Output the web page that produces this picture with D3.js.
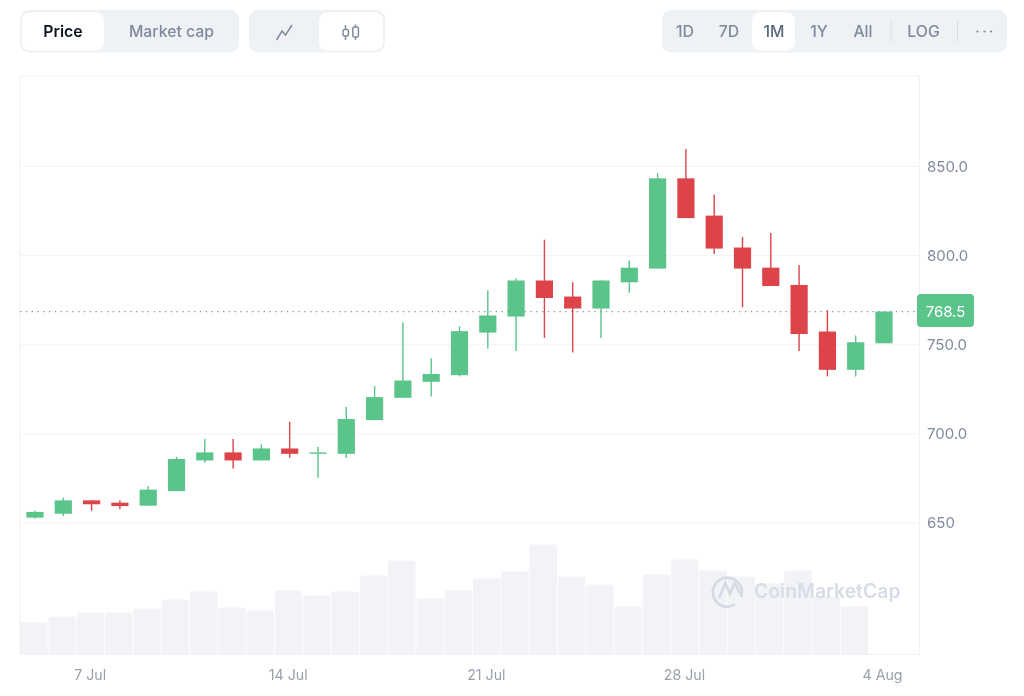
<!DOCTYPE html>
<head>
  <meta charset="utf-8">
  <title>Price candles</title>
  <script src="https://d3js.org/d3.v7.min.js"></script>
  <style>
    body { margin:0;position:fixed;top:0;right:0;bottom:0;left:0;background:#fff; }
    svg { width:1024px;height:696px;display:block;font-family:Inter,sans-serif; }
    .domain { display:none; }
  </style>
</head>

<body>
  <svg></svg>
  <script>
    var days = ['5 Jul','6 Jul','7 Jul','8 Jul','9 Jul','10 Jul','11 Jul','12 Jul','13 Jul','14 Jul','15 Jul',
      '16 Jul','17 Jul','18 Jul','19 Jul','20 Jul','21 Jul','22 Jul','23 Jul','24 Jul','25 Jul','26 Jul',
      '27 Jul','28 Jul','29 Jul','30 Jul','31 Jul','1 Aug','2 Aug','3 Aug','4 Aug'];
    var open = [653.0,655.2,662.7,661.4,659.7,667.9,685.1,689.6,685.1,691.8,689.3,688.8,707.7,720.2,729.2,732.9,
      756.8,765.8,786.0,777.0,770.3,785.0,792.7,843.3,822.4,804.5,793.2,783.5,757.4,735.9,750.8];
    var high = [657.0,664.2,662.8,662.7,670.7,687.1,697.1,697.1,694.1,706.8,692.6,715.0,726.8,762.6,742.4,760.4,
      780.5,787.2,808.9,785.0,786.0,797.2,846.2,859.7,834.3,810.4,812.6,794.7,769.3,755.2,768.6];
    var low = [652.4,653.9,656.9,657.7,659.7,667.9,683.8,680.6,685.1,686.6,675.4,686.4,707.7,720.2,721.0,732.2,
      747.9,746.4,753.8,745.6,753.8,779.2,792.7,821.0,800.9,771.0,782.9,746.4,732.2,732.2,750.8];
    var close = [656.2,662.7,660.5,659.5,668.7,685.9,689.6,685.1,691.8,688.8,689.6,708.3,720.6,729.9,733.6,757.6,
      766.4,786.0,776.2,770.3,786.0,793.2,843.3,821.0,803.9,792.7,782.9,756.0,735.9,751.4,768.6];
    var volume = [3.2,3.8,4.2,4.2,4.6,5.5,6.3,4.7,4.4,6.4,5.9,6.3,7.9,9.4,5.6,6.4,7.6,8.3,11.0,7.8,7.0,4.8,8.0,9.5,
      8.4,7.8,7.1,8.4,5.8,4.8];
    var priceTicks = [650,700,750,800,850];
    var priceLabels = ['650','700.0','750.0','800.0','850.0'];
    var dateTicks = ['7 Jul','14 Jul','21 Jul','28 Jul','4 Aug'];
    var lastPrice = 768.5;
    var rangeLabels = ['1D','7D','1M','1Y','All','LOG'];

    var green = '#5ac48b', red = '#dc444a', muted = '#808a9d';
    var left = 20, right = 919.5, top_ = 76, bottom = 654.5;

    var svg = d3.select('svg');
    var x = d3.scalePoint().domain(days).range([35, 884]);
    var y = d3.scaleLinear().domain([650, 850]).range([523, 166.4]);
    var v = d3.scaleLinear().domain([0, 11]).range([bottom, 544.5]);

    // toolbar
    function pill(px, py, w, h, r, fill) {
      return svg.append('rect').attr('x', px).attr('y', py).attr('width', w).attr('height', h)
        .attr('rx', r).attr('fill', fill);
    }
    function label(t, cx, color, weight) {
      return svg.append('text').text(t).attr('x', cx).attr('y', 36.5).attr('text-anchor', 'middle')
        .attr('font-size', 15.8).attr('font-weight', weight || 500).attr('fill', color);
    }
    pill(20, 10, 219, 42.5, 9, '#eff2f5');
    pill(22, 12.5, 82, 38, 8, '#fff');
    label('Price', 63, '#0d1421', 600);
    label('Market cap', 171.5, muted);

    pill(249, 10, 136, 42.5, 9, '#eff2f5');
    pill(319, 12.5, 64, 38, 8, '#fff');
    svg.append('path').attr('d', 'M276.5 40 L282 31 L285.5 35 L292 25')
      .attr('fill', 'none').attr('stroke', muted).attr('stroke-width', 1.5);
    svg.append('path').attr('d', 'M345.5 25v15 M355.5 24.5v15.5')
      .attr('stroke', muted).attr('stroke-width', 1.5);
    svg.append('rect').attr('x', 343).attr('y', 29.5).attr('width', 5.4).attr('height', 6.5)
      .attr('rx', 1.5).attr('fill', '#fff').attr('stroke', muted).attr('stroke-width', 1.5);
    svg.append('rect').attr('x', 352.8).attr('y', 27).attr('width', 5.6).attr('height', 10)
      .attr('rx', 1.5).attr('fill', '#fff').attr('stroke', muted).attr('stroke-width', 1.5);

    pill(662, 10, 345, 42.5, 9, '#eff2f5');
    pill(752, 12.5, 43, 38, 8, '#fff');
    var rangeX = [685, 729, 774, 819, 863, 923.5];
    rangeLabels.forEach((t, i) => label(t, rangeX[i], i == 2 ? '#58667e' : muted));
    svg.selectAll('.sep').data([890.5, 957]).enter().append('rect').attr('class', 'sep')
      .attr('x', d => d).attr('y', 21).attr('width', 1).attr('height', 21).attr('fill', '#d9dde5');
    svg.selectAll('.dot').data([977.5, 984.5, 991]).enter().append('circle').attr('class', 'dot')
      .attr('cx', d => d).attr('cy', 31.5).attr('r', 1.1).attr('fill', muted);

    // frame + grid
    svg.append('rect').attr('x', left).attr('y', top_).attr('width', right - left).attr('height', bottom - top_)
      .attr('fill', '#fff').attr('stroke', '#f1f2f4').attr('stroke-width', 1);
    svg.selectAll('.grid').data(priceTicks).enter().append('line').attr('class', 'grid')
      .attr('x1', left).attr('x2', right).attr('y1', d => y(d)).attr('y2', d => y(d))
      .attr('stroke', '#f1f3f5').attr('stroke-width', 1);

    // volume
    svg.selectAll('.vol').data(volume).enter().append('path').attr('class', 'vol')
      .attr('fill', '#f1f3f6')
      .attr('d', (d, i) => {
        var x0 = x(days[i]) - 14.8, x1 = x0 + 27.4, t = v(d);
        return 'M' + x0 + ' ' + bottom + 'V' + (t + 2) + 'Q' + x0 + ' ' + t + ' ' + (x0 + 2) + ' ' + t +
          'H' + (x1 - 2) + 'Q' + x1 + ' ' + t + ' ' + x1 + ' ' + (t + 2) + 'V' + bottom + 'Z';
      });

    // watermark
    var mark = svg.append('g').attr('fill', 'none').attr('stroke', '#d5d9e4').attr('stroke-width', 2.6);
    mark.append('path').attr('d', 'M741 597 A14.5 14.5 0 1 0 735 604.5');
    mark.append('path').attr('d', 'M719 598 L725.5 583 L730 594 L734.5 583 L740 593.5');
    svg.append('text').text('CoinMarketCap').attr('x', 754).attr('y', 598)
      .attr('font-size', 19.4).attr('font-weight', 600).attr('fill', '#d8dce6');

    // last price line
    svg.append('line').attr('x1', left).attr('x2', right)
      .attr('y1', y(lastPrice)).attr('y2', y(lastPrice))
      .attr('stroke', '#8f95a1').attr('stroke-width', 1.2).attr('stroke-dasharray', '1.4 4.4');

    // candles
    var candles = svg.selectAll('.candle').data(days).enter().append('g').attr('class', 'candle')
      .attr('fill', (d, i) => close[i] >= open[i] ? green : red)
      .attr('stroke', (d, i) => close[i] >= open[i] ? green : red);
    candles.append('line')
      .attr('x1', d => x(d)).attr('x2', d => x(d))
      .attr('y1', (d, i) => y(high[i])).attr('y2', (d, i) => y(low[i]))
      .attr('stroke-width', 1.4);
    candles.append('rect')
      .attr('stroke', 'none')
      .attr('x', d => x(d) - 8.6).attr('width', 17.2)
      .attr('y', (d, i) => y(Math.max(open[i], close[i])))
      .attr('height', (d, i) => Math.max(1.4, Math.abs(y(open[i]) - y(close[i]))));

    // axes
    var axisY = svg.append('g').attr('transform', 'translate(927,0)')
      .call(d3.axisRight(y).tickValues(priceTicks).tickSize(0).tickPadding(0)
        .tickFormat((d, i) => priceLabels[i]));
    axisY.selectAll('text').attr('font-family', 'Inter,sans-serif').attr('font-size', 15).attr('fill', muted);

    var axisX = svg.append('g').attr('transform', 'translate(-2,' + 669.5 + ')')
      .call(d3.axisBottom(x).tickValues(dateTicks).tickSize(0).tickPadding(0));
    axisX.selectAll('text').attr('font-family', 'Inter,sans-serif').attr('font-size', 14.2).attr('fill', '#9a9fa9');

    // last price tag
    svg.append('rect').attr('x', 917).attr('y', 294).attr('width', 57).attr('height', 33)
      .attr('rx', 4).attr('fill', green);
    svg.append('text').text(lastPrice.toFixed(1)).attr('x', 945.5).attr('y', 316.5)
      .attr('text-anchor', 'middle').attr('font-size', 15).attr('fill', '#fff');
  </script>
</body>
